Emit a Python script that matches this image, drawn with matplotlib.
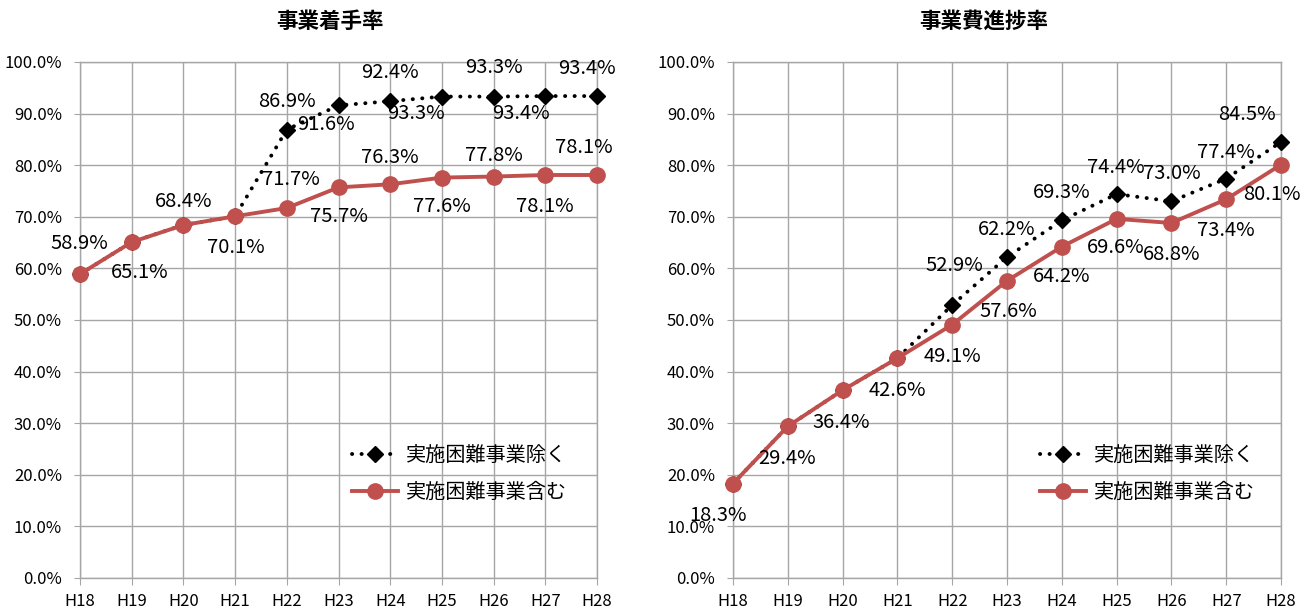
import matplotlib
matplotlib.use("Agg")
import matplotlib.pyplot as plt
from matplotlib.ticker import FuncFormatter, MultipleLocator

plt.rcParams['font.family'] = ['Noto Sans CJK JP', 'DejaVu Sans']

categories = ["H18", "H19", "H20", "H21", "H22", "H23", "H24", "H25", "H26", "H27", "H28"]

titles = ["事業着手率", "事業費進捗率"]
series_names = ["実施困難事業除く", "実施困難事業含む"]

start_excl = [58.9, 65.1, 68.4, 70.1, 86.9, 91.6, 92.4, 93.3, 93.3, 93.4, 93.4]
start_incl = [58.9, 65.1, 68.4, 70.1, 71.7, 75.7, 76.3, 77.6, 77.8, 78.1, 78.1]

cost_excl = [18.3, 29.4, 36.4, 42.6, 52.9, 62.2, 69.3, 74.4, 73.0, 77.4, 84.5]
cost_incl = [18.3, 29.4, 36.4, 42.6, 49.1, 57.6, 64.2, 69.6, 68.8, 73.4, 80.1]

# label offsets in pixels (dx, dy up); None = no label
off_start_excl = [None, None, None, None, (0, 28), (-13, -19), (0, 29), (-26, -17), (0, 29), (-24, -17), (-10, 28)]
off_start_incl = [(-1, 31), (8, -30), (0, 24), (1, -31), (4, 29), (0, -29), (0, 27), (0, -29), (0, 21), (0, -31), (-13, 28)]
off_cost_excl = [None, None, None, None, (2, 40), (0, 28), (0, 28), (-1, 27), (0, 28), (0, 26), (-34, 27)]
off_cost_incl = [(-15, -32), (-1, -32), (-1, -32), (0, -32), (0, -32), (1, -31), (0, -30), (-1, -29), (0, -32), (0, -31), (-9, -30)]

W, H = 1313, 612
fig = plt.figure(figsize=(W / 100, H / 100), dpi=100)

red = "#C0504D"
grid_c = "#A6A6A6"

panels = [
    (80, 597, 330, titles[0], start_excl, start_incl, off_start_excl, off_start_incl, 352),
    (733, 1281, 984, titles[1], cost_excl, cost_incl, off_cost_excl, off_cost_incl, 1040),
]

for (x0, x1, tcx, title, excl, incl, oe, oi, legx) in panels:
    ax = fig.add_axes([x0 / W, (H - 578) / H, (x1 - x0) / W, (578 - 62) / H])
    x = list(range(len(categories)))
    ax.plot(x, excl, color="black", linestyle=(0, (0.05, 2.4)), linewidth=2.8,
            dash_capstyle="round", marker="D", markersize=8, markerfacecolor="black",
            markeredgecolor="black", label=series_names[0], zorder=3, clip_on=False)
    ax.plot(x, incl, color=red, linestyle="-", linewidth=2.8, marker="o", markersize=11,
            markerfacecolor=red, markeredgecolor=red, label=series_names[1], zorder=4,
            clip_on=False)
    ax.set_xlim(0, len(categories) - 1)
    ax.set_ylim(0, 100)
    ax.set_xticks(x)
    ax.set_xticklabels(categories)
    ax.yaxis.set_major_locator(MultipleLocator(10))
    ax.yaxis.set_major_formatter(FuncFormatter(lambda v, p: f"{v:.1f}%"))
    ax.tick_params(axis="y", labelsize=12, length=4, color=grid_c, pad=9)
    ax.tick_params(axis="x", labelsize=12, length=5, color=grid_c, pad=6)
    ax.grid(True, color=grid_c, linewidth=1.0)
    for s in ax.spines.values():
        s.set_color(grid_c)
        s.set_linewidth(1.0)
    for xi, v, o in zip(x, excl, oe):
        if o is None:
            continue
        ax.annotate(f"{v:.1f}%", (xi, v), xytext=o, textcoords="offset pixels",
                    ha="center", va="center", fontsize=14.5, zorder=5, annotation_clip=False)
    for xi, v, o in zip(x, incl, oi):
        ax.annotate(f"{v:.1f}%", (xi, v), xytext=o, textcoords="offset pixels",
                    ha="center", va="center", fontsize=14.5, zorder=5, annotation_clip=False)
    fig.text(tcx / W, 1 - 21 / H, title, ha="center", va="center", fontsize=15.5,
             fontweight="bold")
    ax.legend(loc="upper left", bbox_to_anchor=((legx - x0) / (x1 - x0), (578 - 445) / 516),
              frameon=False, fontsize=14.5, handlelength=2.3, labelspacing=0.8,
              handletextpad=0.4, borderaxespad=0, borderpad=0)

fig.savefig("out.png", dpi=100, facecolor="white")
